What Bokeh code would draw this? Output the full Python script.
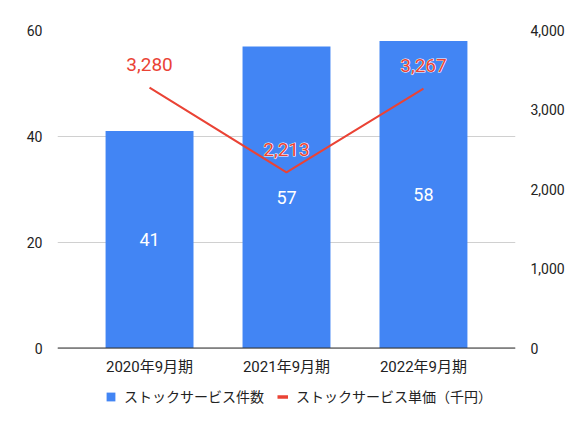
from bokeh.plotting import figure
from bokeh.models import (ColumnDataSource, FactorRange, Range1d, LinearAxis, FixedTicker,
                          NumeralTickFormatter, Legend, LegendItem, Span)
from bokeh.core.properties import value
from bokeh.embed import file_html
from bokeh.resources import INLINE

categories = ["2020年9月期", "2021年9月期", "2022年9月期"]
counts = [41, 57, 58]
prices = [3280, 2213, 3267]
left_ticks = [0, 20, 40, 60]
right_ticks = [0, 1000, 2000, 3000, 4000]
series_names = ["ストックサービス件数", "ストックサービス単価（千円）"]

FONT = "Roboto, 'Noto Sans CJK JP', sans-serif"
BLUE = "#4285F4"
RED = "#EA4335"
TXT = "#222222"

# layout (pixels): plot frame reaches the canvas bottom so the legend is not clipped
W, H = 569, 413
TOP, ZERO_PX = 30, 347.5          # pixel rows of the top gridline and of the zero baseline
LEFT_MAX, RIGHT_MAX = 60, 4000
frac_below = (H - ZERO_PX) / (ZERO_PX - TOP)

src = ColumnDataSource(dict(
    cat=categories,
    count=counts,
    half=[c / 2 for c in counts],
    count_lbl=[str(c) for c in counts],
    price=prices,
    price_lbl=[f"{v:,}" for v in prices],
    zero=[0] * len(categories),
))

p = figure(width=W, height=H,
           x_range=FactorRange(*categories, range_padding=0.172, range_padding_units="absolute"),
           y_range=Range1d(-LEFT_MAX * frac_below, LEFT_MAX),
           x_axis_location=None,
           output_backend="svg", toolbar_location=None,
           min_border_left=57, min_border_right=54, min_border_top=TOP, min_border_bottom=0)
p.extra_y_ranges = {"price": Range1d(-RIGHT_MAX * frac_below, RIGHT_MAX)}

p.yaxis.ticker = FixedTicker(ticks=left_ticks)
right = LinearAxis(y_range_name="price", ticker=FixedTicker(ticks=right_ticks),
                   formatter=NumeralTickFormatter(format="0,0"))
p.add_layout(right, "right")

for ax in p.yaxis:
    ax.axis_line_color = None
    ax.major_tick_line_color = None
    ax.minor_tick_line_color = None
    ax.major_label_text_font = FONT
    ax.major_label_text_font_size = "14px"
    ax.major_label_text_color = TXT
    ax.major_label_standoff = 9

p.xgrid.grid_line_color = None
p.ygrid.grid_line_color = "#d0d0d0"
p.outline_line_color = None

bars = p.vbar(x="cat", top="count", width=0.642, fill_color=BLUE, line_color=None, source=src)
p.add_layout(Span(location=0, dimension="width", line_color="#333333", line_width=1))
p.line(x="cat", y="price", y_range_name="price", line_color=RED, line_width=2, source=src)

# category labels under the baseline
p.text(x="cat", y="zero", text="cat", text_align="center", text_baseline="middle",
       y_offset=19, text_color=TXT, text_font=value(FONT), text_font_size="15px", source=src)

p.text(x="cat", y="half", text="count_lbl", text_align="center", text_baseline="middle",
       text_color="white", text_font=value(FONT), text_font_size="18px", source=src)
# white halo behind the red value labels
p.text(x="cat", y="price", y_range_name="price", text="price_lbl", text_align="center",
       text_baseline="middle", y_offset=-23, text_color="white", text_outline_color="white",
       text_font=value(FONT), text_font_size="19px", source=src)
p.text(x="cat", y="price", y_range_name="price", text="price_lbl", text_align="center",
       text_baseline="middle", y_offset=-23, text_color=RED,
       text_font=value(FONT), text_font_size="19px", source=src)

# single-point line (draws nothing in the plot) used only for a thicker legend dash
legend_line = p.line(x=categories[:1], y=prices[:1], y_range_name="price",
                     line_color=RED, line_width=3.5)

legend = Legend(items=[LegendItem(label=series_names[0], renderers=[bars]),
                       LegendItem(label=series_names[1], renderers=[legend_line])],
                location=(48, 7), orientation="horizontal",
                border_line_color=None, background_fill_alpha=0,
                padding=0, margin=0, spacing=13, label_standoff=8,
                glyph_width=11, glyph_height=11,
                label_text_font=FONT, label_text_font_size="14px", label_text_color=TXT)
p.add_layout(legend, "center")

open("out.html", "w").write(file_html(p, INLINE))
